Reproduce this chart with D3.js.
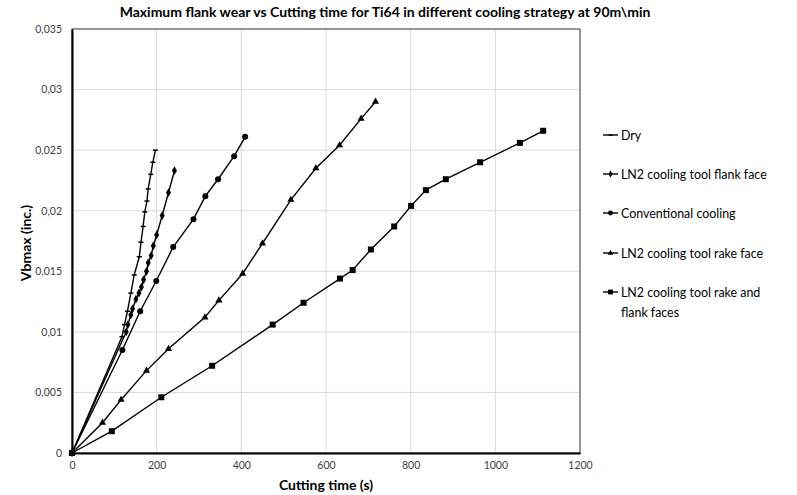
<!DOCTYPE html>
<html>
<head>
<meta charset="utf-8">
<script src="https://cdn.jsdelivr.net/npm/d3@7"></script>
<style>
  html, body { margin: 0; padding: 0; background: #fff; }
  svg { display: block; font-family: Lato, "Open Sans", sans-serif; }
</style>
</head>
<body>
<svg id="chart" width="797" height="495"></svg>
<script>
// ---- Data ----
const titleText = "Maximum flank wear vs Cutting time for Ti64 in different cooling strategy at 90m\\min";
const xTitle = "Cutting time (s)";
const yTitle = "Vbmax (inc.)";

const xTicks = [0, 200, 400, 600, 800, 1000, 1200];
const yTicks = [0, 0.005, 0.01, 0.015, 0.02, 0.025, 0.03, 0.035];
const yTickLabels = ["0", "0,005", "0,01", "0,015", "0,02", "0,025", "0,03", "0,035"];

const seriesNames = ["Dry", "LN2 cooling tool flank face", "Conventional cooling", "LN2 cooling tool rake face", "LN2 cooling tool rake and flank faces"];
const seriesMarkers = ["dash", "diamond", "circle", "triangle", "square"];

const dryX = [0, 118, 124, 131, 139, 147, 159, 163, 168, 172, 177, 180, 186, 191, 197];
const dryY = [0, 0.0096, 0.0106, 0.0117, 0.0132, 0.0147, 0.0162, 0.0174, 0.0187, 0.0199, 0.0208, 0.0218, 0.0230, 0.0240, 0.0250];

const flankX = [0, 128, 132, 139, 143, 151, 158, 164, 169, 176, 180, 187, 192, 200, 213, 228, 242];
const flankY = [0, 0.0100, 0.0106, 0.0114, 0.0119, 0.0127, 0.0132, 0.0137, 0.0143, 0.0150, 0.0157, 0.0163, 0.0171, 0.0180, 0.0196, 0.0215, 0.0233];

const convX = [0, 119, 161, 199, 239, 287, 315, 345, 383, 409];
const convY = [0, 0.0085, 0.0117, 0.0142, 0.0170, 0.0193, 0.0212, 0.0226, 0.0245, 0.0261];

const rakeX = [0, 72, 116, 176, 228, 314, 347, 403, 450, 517, 576, 632, 683, 717];
const rakeY = [0, 0.0025, 0.0044, 0.0068, 0.0086, 0.0112, 0.0126, 0.0148, 0.0173, 0.0209, 0.0235, 0.0254, 0.0276, 0.0290];

const rakeFlankX = [0, 94, 211, 331, 474, 547, 633, 663, 706, 761, 801, 836, 883, 964, 1058, 1113];
const rakeFlankY = [0, 0.0018, 0.0046, 0.0072, 0.0106, 0.0124, 0.0144, 0.0151, 0.0168, 0.0187, 0.0204, 0.0217, 0.0226, 0.0240, 0.0256, 0.0266];

const seriesX = [dryX, flankX, convX, rakeX, rakeFlankX];
const seriesY = [dryY, flankY, convY, rakeY, rakeFlankY];

// ---- Layout ----
const svg = d3.select("#chart");
const plot = { left: 72, right: 580, top: 29, bottom: 453 };

const x = d3.scaleLinear().domain([0, 1200]).range([plot.left, plot.right]);
const y = d3.scaleLinear().domain([0, 0.035]).range([plot.bottom, plot.top]);

// gridlines
const grid = svg.append("g");
grid.selectAll("line.vx").data(xTicks.slice(1)).join("line")
  .attr("x1", d => x(d)).attr("x2", d => x(d))
  .attr("y1", plot.top).attr("y2", plot.bottom)
  .attr("stroke", "#d9d9d9").attr("stroke-width", 1);
grid.selectAll("line.hy").data(yTicks.slice(1)).join("line")
  .attr("x1", plot.left).attr("x2", plot.right)
  .attr("y1", d => y(d)).attr("y2", d => y(d))
  .attr("stroke", "#d9d9d9").attr("stroke-width", 1);

// plot border (top/right)
svg.append("rect")
  .attr("x", plot.left).attr("y", plot.top)
  .attr("width", plot.right - plot.left).attr("height", plot.bottom - plot.top)
  .attr("fill", "none").attr("stroke", "#404040").attr("stroke-width", 1);

// axes
const xAxis = d3.axisBottom(x).tickValues(xTicks).tickSize(0).tickPadding(9).tickFormat(d3.format("d"));
const yAxis = d3.axisLeft(y).tickValues(yTicks).tickSize(0).tickPadding(10)
  .tickFormat((d, i) => yTickLabels[i]);

const gx = svg.append("g").attr("transform", `translate(0,${plot.bottom})`).call(xAxis);
const gy = svg.append("g").attr("transform", `translate(${plot.left},0)`).call(yAxis);
[gx, gy].forEach(g => {
  g.select(".domain").attr("stroke", "#000").attr("stroke-width", 2);
  g.selectAll("text").attr("fill", "#404040").style("font-size", "10.5px").style("font-family", "Lato, sans-serif");
});

// series
const line = d3.line().x(d => x(d[0])).y(d => y(d[1]));

function drawMarker(g, type, cx, cy, s) {
  s = s || 1;
  if (type === "dash") {
    g.append("line").attr("x1", cx - 2.5 * s).attr("x2", cx + 2.5 * s).attr("y1", cy).attr("y2", cy)
      .attr("stroke", "#000").attr("stroke-width", 1.5);
  } else if (type === "diamond") {
    g.append("path").attr("d", d3.symbol(d3.symbolDiamond, 22 * s * s)())
      .attr("transform", `translate(${cx},${cy})`).attr("fill", "#000");
  } else if (type === "circle") {
    g.append("circle").attr("cx", cx).attr("cy", cy).attr("r", 3 * s).attr("fill", "#000");
  } else if (type === "triangle") {
    g.append("path").attr("d", d3.symbol(d3.symbolTriangle, 22 * s * s)())
      .attr("transform", `translate(${cx},${cy})`).attr("fill", "#000");
  } else if (type === "square") {
    g.append("rect").attr("x", cx - 3 * s).attr("y", cy - 3 * s).attr("width", 6 * s).attr("height", 6 * s).attr("fill", "#000");
  }
}

const seriesG = svg.append("g");
seriesNames.forEach((name, i) => {
  const pts = seriesX[i].map((xv, j) => [xv, seriesY[i][j]]);
  const g = seriesG.append("g");
  g.append("path").datum(pts).attr("d", line)
    .attr("fill", "none").attr("stroke", "#000").attr("stroke-width", 1.4);
  pts.forEach(p => drawMarker(g, seriesMarkers[i], x(p[0]), y(p[1])));
});

// title
svg.append("text").attr("x", 385).attr("y", 17).attr("text-anchor", "middle")
  .style("font-size", "14px").style("font-weight", "bold").attr("fill", "#000")
  .text(titleText);

// axis titles
svg.append("text").attr("x", 326).attr("y", 490).attr("text-anchor", "middle")
  .style("font-size", "14px").style("font-weight", "bold").attr("fill", "#000")
  .text(xTitle);
svg.append("text").attr("transform", `translate(31,243) rotate(-90)`)
  .attr("text-anchor", "middle")
  .style("font-size", "14px").style("font-weight", "bold").attr("fill", "#000")
  .text(yTitle);

// legend
const legendY = [135, 174, 213, 253, 292];
const lg = svg.append("g");
seriesNames.forEach((name, i) => {
  const ly = legendY[i];
  lg.append("line").attr("x1", 603).attr("x2", 618).attr("y1", ly).attr("y2", ly)
    .attr("stroke", "#000").attr("stroke-width", 1.4);
  drawMarker(lg, seriesMarkers[i], 610.5, ly, 0.8);
  const t = lg.append("text").attr("x", 621).attr("y", ly + 4.5)
    .style("font-size", "12.4px").attr("fill", "#000");
  if (i === 4) {
    t.append("tspan").attr("x", 621).text("LN2 cooling tool rake and");
    t.append("tspan").attr("x", 621).attr("dy", 20.5).text("flank faces");
  } else {
    t.text(name);
  }
});
</script>
</body>
</html>
